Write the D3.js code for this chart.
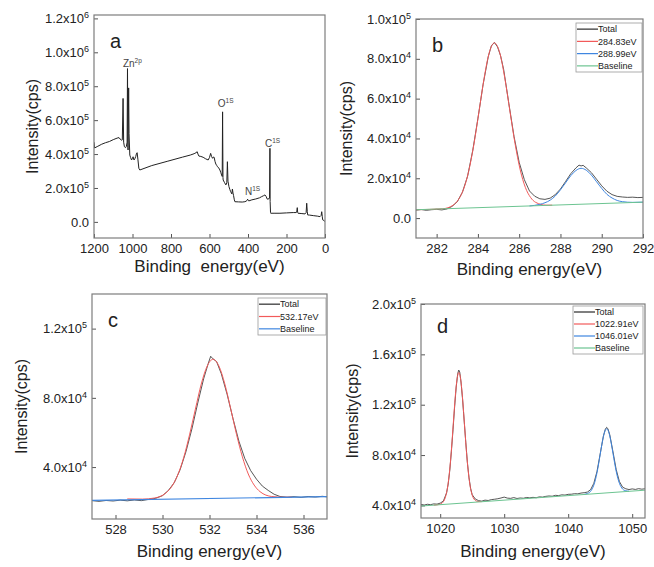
<!DOCTYPE html>
<html>
<head>
<meta charset="utf-8">
<script src="https://cdn.jsdelivr.net/npm/d3@7"></script>
<style>
body { margin: 0; background: #fff; }
text { font-family: "Liberation Sans", Arial, sans-serif; fill: #222; }
</style>
</head>
<body>
<div id="chart"></div>
<script>
// all intensities below are in 10^3 cps

// (a) survey spectrum, [binding energy eV, intensity]
var surveyData = [[1200,470],[1197,436],[1180,446],[1160,458],[1140,467],[1120,474],[1100,485],[1080,494],[1070,497],
  [1064,488],[1058,482],[1053,484],[1049,728],[1046,470],[1042,443],[1036,438],[1032,445],[1028,470],[1026,904],
  [1024,440],[1023,424],[1020,790],[1018,520],[1014,394],[1010,380],[1005,365],[1000,375],[997,384],[994,370],
  [992,365],[988,372],[983,386],[980,400],[976,408],[972,370],[967,316],[962,306],[900,332],[820,357],[740,382],
  [700,394],[680,402],[670,408],[664,414],[660,400],[655,388],[645,386],[633,381],[620,372],[607,365],[600,380],
  [594,404],[589,385],[584,375],[579,383],[576,381],[571,355],[567,341],[562,332],[558,325],[552,318],[546,306],
  [541,290],[537,276],[534,268],[532,649],[530,262],[529,247],[522,232],[515,218],[510,230],[507,355],[504,240],
  [499,208],[494,190],[490,178],[486,170],[484,165],[481,194],[478,170],[475,155],[471,130],[468,119],[450,118],
  [430,117],[416,119],[410,122],[404,128],[402,134],[399,126],[395,124],[380,130],[360,135],[340,142],[329,149],
  [320,154],[312,159],[306,150],[300,134],[290,137],[288,140],[286,434],[285,120],[283,56],[282,51],[260,51],
  [234,51],[200,53],[165,55],[150,55],[147,57],[144,84],[142,56],[140,51],[120,49],[104,47],[98,55],[95,110],
  [92,60],[90,41],[80,40],[61,37],[40,34],[26,31],[20,38],[17,60],[14,30],[12,12],[6,8],[2,4],[0,2]];
var surveyPeakNames = ["Zn", "O", "N", "C"];
var surveyPeakSups = ["2p", "1S", "1S", "1S"];
var surveyPeakE = [1050, 557, 416, 312];
var surveyPeakI = [912, 676, 159, 441];
var surveyXTicks = [1200, 1000, 800, 600, 400, 200, 0];
var surveyYTicks = [0, 200, 400, 600, 800, 1000, 1200];

// (b) C 1s
var c1sTotal = [[281,4.0],[281.25,4.3],[281.5,3.9],[281.75,4.2],[282,4.4],[282.25,4.1],[282.5,4.6],[282.75,5.9],
  [283,8.2],[283.25,13],[283.5,21],[283.75,34],[284,50],[284.25,67],[284.5,81],[284.65,86.5],[284.8,88.2],
  [284.95,86],[285.1,81.5],[285.25,74.5],[285.5,57.5],[285.75,41],[286,28],[286.25,19.3],[286.5,13.6],
  [286.75,11.0],[287,9.7],[287.25,9.4],[287.5,10.0],[287.75,11.8],[288,14.6],[288.25,18.4],[288.5,22.3],
  [288.75,25.2],[288.9,26.6],[289,26.2],[289.1,26.5],[289.25,25.2],[289.5,22.8],[289.75,19.5],[290,16.2],
  [290.25,13.5],[290.5,11.8],[290.75,10.9],[291,10.6],[291.25,10.4],[291.5,10.5],[291.75,10.3],[292,10.4]];
var c1sPeakA = [[281,4.2],[282.3,4.7],[282.8,6.5],[283.05,9.2],[283.3,14.4],[283.55,23.4],[283.8,36.7],[284.05,53.3],
  [284.3,70.2],[284.55,83.1],[284.8,88.0],[285.05,83.3],[285.3,70.5],[285.55,53.8],[285.8,37.4],[286.05,24.2],
  [286.3,15.4],[286.55,10.4],[286.8,7.9],[287.3,6.5],[287.6,6.5]];
var c1sPeakB = [[286.5,6.1],[287,6.9],[287.25,7.7],[287.5,9.0],[287.75,11.1],[288,14.2],[288.25,17.75],[288.5,21.3],
  [288.75,23.9],[289,25.0],[289.25,24.05],[289.5,21.6],[289.75,18.25],[290,14.9],[290.25,11.95],[290.5,10.1],
  [290.75,8.85],[291,8.25],[291.5,7.9],[292,8.0]];
var c1sBase = [[281,4.2],[292,8.0]];
var c1sNames = ["Total", "284.83eV", "288.99eV", "Baseline"];
var c1sXTicks = [282, 284, 286, 288, 290, 292];
var c1sYTicks = [0, 20, 40, 60, 80, 100];

// (c) O 1s
var o1sTotal = [[527,20.6],[527.3,20.2],[527.6,20.7],[527.9,20.4],[528.2,20.9],[528.5,20.5],[528.8,21.0],[529.1,20.6],
  [529.4,21.3],[529.7,21.9],[530,23.5],[530.25,26.5],[530.5,31],[530.75,38.5],[531,49],[531.25,62],[531.5,77],
  [531.75,91],[531.95,100],[532.05,104],[532.15,102.5],[532.3,101],[532.5,94],[532.75,82],[533,68],[533.25,55],
  [533.5,45],[533.75,38],[534,33],[534.25,29],[534.5,26.5],[534.75,24.3],[535,23.0],[535.3,22.6],[535.6,22.9],
  [535.9,22.5],[536.2,23.0],[536.5,22.7],[536.8,23.1],[537,22.8]];
var o1sPeak = [[528.5,21.6],[529.15,21.5],[529.65,22.1],[530.15,25.1],[530.4,28.9],[530.65,35.5],[530.9,45.4],
  [531.15,58.6],[531.4,73.5],[531.65,88.0],[531.9,98.3],[532.15,102.3],[532.4,98.4],[532.65,88.1],[532.9,73.8],
  [533.15,58.9],[533.4,45.9],[533.65,36.0],[533.9,29.6],[534.15,25.8],[534.65,23.0],[535.15,22.6],[535.5,22.6]];
var o1sBase = [[527,20.8],[537,22.9]];
var o1sNames = ["Total", "532.17eV", "Baseline"];
var o1sXTicks = [528, 530, 532, 534, 536];
var o1sYTicks = [40, 80, 120];

// (d) Zn 2p
var zn2pTotal = [[1017,40.8],[1017.5,40.3],[1018,40.9],[1018.5,40.6],[1019,41.2],[1019.5,41.0],[1020,41.8],
  [1020.5,43.5],[1021,50],[1021.25,57],[1021.5,68],[1021.75,83],[1022,100],[1022.25,118],[1022.5,134],
  [1022.75,145],[1022.9,147.5],[1023.05,146],[1023.25,138],[1023.5,124],[1023.75,107],[1024,90],[1024.25,74],
  [1024.5,62],[1024.75,53.5],[1025,48.5],[1025.5,45],[1026,43.8],[1026.5,43.4],[1027,44.2],[1027.5,43.9],
  [1028,44.6],[1028.5,44.9],[1029,45.3],[1029.5,45.9],[1030,46.6],[1030.5,45.8],[1031,45.6],[1031.5,46.2],
  [1032,45.5],[1032.5,45.9],[1033,45.7],[1033.5,46.3],[1034,46.0],[1034.5,46.4],[1035,46.1],[1035.5,46.8],
  [1036,46.6],[1036.5,47.2],[1037,47.5],[1037.5,47.3],[1038,48.0],[1038.5,47.8],[1039,48.4],[1039.5,48.2],
  [1040,48.8],[1040.5,48.9],[1041,49.3],[1041.5,49.2],[1042,49.8],[1042.5,50.1],[1043,50.6],[1043.5,52.5],
  [1044,57.5],[1044.5,67],[1045,81],[1045.5,95],[1045.8,100.5],[1046,102],[1046.2,101],[1046.5,96],[1047,82.5],
  [1047.5,68.5],[1048,59],[1048.5,54.5],[1049,53.2],[1049.5,52.6],[1050,53.1],[1050.5,52.7],[1051,53.3],
  [1051.5,52.9],[1052,53.2]];
var zn2pPeakA = [[1019,40.2],[1019.91,40.85],[1020.41,42.4],[1020.91,48.3],[1021.16,54.7],[1021.41,64.6],
  [1021.66,78.2],[1021.91,95.1],[1022.16,113.2],[1022.41,129.7],[1022.66,141.4],[1022.91,145.7],[1023.16,141.6],
  [1023.41,130.1],[1023.66,113.8],[1023.91,95.8],[1024.16,79.1],[1024.41,65.7],[1024.66,56.0],[1024.91,49.8],
  [1025.41,44.3],[1025.91,43.1],[1026.5,43.0]];
var zn2pPeakB = [[1042.5,48.8],[1043,49.5],[1043.5,51.2],[1044,56.1],[1044.25,60.3],[1044.5,66.0],[1044.75,72.9],
  [1045,80.5],[1045.25,88.2],[1045.5,94.8],[1045.75,99.25],[1046,100.9],[1046.25,99.4],[1046.5,95.1],
  [1046.75,88.7],[1047,81.2],[1047.25,73.8],[1047.5,67.1],[1047.75,61.6],[1048,57.6],[1048.5,53.0],[1049,51.6],
  [1049.5,51.3]];
var zn2pBase = [[1017,39.5],[1052,52.1]];
var zn2pNames = ["Total", "1022.91eV", "1046.01eV", "Baseline"];
var zn2pXTicks = [1020, 1030, 1040, 1050];
var zn2pYTicks = [40, 80, 120, 160, 200];

var width = 654, height = 567;
var cTotal = "#2b2b2b", cRed = "#f25a5a", cBlue = "#3f86e0", cGreen = "#6cc491";

var svg = d3.select("#chart").append("svg")
    .attr("width", width)
    .attr("height", height);

svg.append("rect").attr("width", width).attr("height", height).attr("fill", "#fff");

// writes 1.2x10^5 style labels (value given in 10^3 cps)
function sciLabel(sel, v) {
    sel.text(null);
    if (v === 0) { sel.text("0.0"); return; }
    var cps = v * 1000;
    var e = Math.floor(Math.log10(cps) + 1e-9);
    var m = (cps / Math.pow(10, e)).toFixed(1);
    sel.append("tspan").text(m + "x10");
    sel.append("tspan").attr("dy", -5).attr("font-size", 9).text(e);
}

function drawPanel(p) {
    var x = d3.scaleLinear().domain(p.xDomain).range([p.left, p.right]);
    var y = d3.scaleLinear().domain(p.yDomain).range([p.bottom, p.top]);
    var g = svg.append("g");

    var clipId = "clip-" + p.id;
    g.append("clipPath").attr("id", clipId)
        .append("rect")
        .attr("x", p.left).attr("y", p.top)
        .attr("width", p.right - p.left).attr("height", p.bottom - p.top);

    // axes with inward ticks
    var xa = g.append("g")
        .attr("transform", "translate(0," + p.bottom + ")")
        .call(d3.axisBottom(x).tickValues(p.xTicks).tickFormat(d3.format("d"))
            .tickSizeInner(-4).tickSizeOuter(0).tickPadding(6));
    var ya = g.append("g")
        .attr("transform", "translate(" + p.left + ",0)")
        .call(d3.axisLeft(y).tickValues(p.yTicks).tickSizeInner(-4).tickSizeOuter(0).tickPadding(5));
    [xa, ya].forEach(function(a) {
        a.attr("font-size", 13).attr("font-family", null);
        a.select(".domain").remove();
        a.selectAll(".tick line").attr("stroke", "#555");
    });
    ya.selectAll(".tick text").each(function(d) { sciLabel(d3.select(this), d); });

    // curves
    var line = d3.line()
        .x(function(d) { return x(d[0]); })
        .y(function(d) { return y(d[1]); });
    var plot = g.append("g").attr("clip-path", "url(#" + clipId + ")");
    p.series.forEach(function(s) {
        plot.append("path")
            .datum(s.data)
            .attr("fill", "none")
            .attr("stroke", s.color)
            .attr("stroke-width", s.width)
            .attr("stroke-linejoin", "round")
            .attr("d", line.curve(s.smooth ? d3.curveMonotoneX : d3.curveLinear));
    });

    // frame
    g.append("rect")
        .attr("x", p.left).attr("y", p.top)
        .attr("width", p.right - p.left).attr("height", p.bottom - p.top)
        .attr("fill", "none")
        .attr("stroke", "#7d7d7d")
        .attr("stroke-width", 1.2);

    // axis titles
    g.append("text")
        .attr("x", (p.left + p.right) / 2)
        .attr("y", p.bottom + p.xTitleGap)
        .attr("text-anchor", "middle")
        .attr("font-size", 17)
        .style("white-space", "pre")
        .text(p.xTitle);
    g.append("text")
        .attr("transform", "translate(" + (p.left - p.yTitleGap) + "," + ((p.top + p.bottom) / 2) + ") rotate(-90)")
        .attr("text-anchor", "middle")
        .attr("dy", "0.35em")
        .attr("font-size", 16)
        .text("Intensity(cps)");

    // panel letter
    g.append("text")
        .attr("x", p.letterX).attr("y", p.letterY)
        .attr("font-size", 20)
        .text(p.id);

    // legend
    if (p.legend) {
        var L = p.legend;
        var rowH = (L.y1 - L.y0) / L.names.length;
        var lg = g.append("g");
        lg.append("rect")
            .attr("x", L.x0).attr("y", L.y0)
            .attr("width", L.x1 - L.x0).attr("height", L.y1 - L.y0)
            .attr("fill", "#fff")
            .attr("stroke", "#9a9a9a")
            .attr("stroke-width", 0.8);
        L.names.forEach(function(n, i) {
            var cy = L.y0 + rowH * (i + 0.5);
            lg.append("line")
                .attr("x1", L.x0 + 1).attr("x2", L.x0 + 22)
                .attr("y1", cy).attr("y2", cy)
                .attr("stroke", p.series[i].color)
                .attr("stroke-width", 1.2);
            lg.append("text")
                .attr("x", L.x0 + 22).attr("y", cy)
                .attr("dy", "0.35em")
                .attr("font-size", 9)
                .text(n);
        });
    }
    return { x: x, y: y, g: g };
}

var pa = drawPanel({
    id: "a", left: 94, right: 325, top: 15, bottom: 238,
    xDomain: [1200, 0], yDomain: [-95, 1220],
    xTicks: surveyXTicks, yTicks: surveyYTicks,
    xTitle: "Binding  energy(eV)", xTitleGap: 34, yTitleGap: 62,
    letterX: 110, letterY: 48,
    series: [{ data: surveyData, color: "#222", width: 1 }]
});

// peak labels of the survey
surveyPeakNames.forEach(function(n, i) {
    var t = pa.g.append("text")
        .attr("x", pa.x(surveyPeakE[i]))
        .attr("y", pa.y(surveyPeakI[i]))
        .attr("font-size", 10)
        .style("fill", "#444");
    t.append("tspan").text(n);
    t.append("tspan").attr("dy", -4).attr("font-size", 6.5).text(surveyPeakSups[i]);
});

drawPanel({
    id: "b", left: 416, right: 643, top: 19, bottom: 238,
    xDomain: [281, 292], yDomain: [-10, 100],
    xTicks: c1sXTicks, yTicks: c1sYTicks,
    xTitle: "Binding energy(eV)", xTitleGap: 37, yTitleGap: 70,
    letterX: 432, letterY: 52,
    series: [
        { data: c1sTotal, color: cTotal, width: 0.8 },
        { data: c1sPeakA, color: cRed, width: 1, smooth: true },
        { data: c1sPeakB, color: cBlue, width: 1, smooth: true },
        { data: c1sBase, color: cGreen, width: 1 }
    ],
    legend: { x0: 576, y0: 23, x1: 642, y1: 72, names: c1sNames }
});

drawPanel({
    id: "c", left: 92, right: 327, top: 294, bottom: 519,
    xDomain: [527, 537], yDomain: [10, 140],
    xTicks: o1sXTicks, yTicks: o1sYTicks,
    xTitle: "Binding energy(eV)", xTitleGap: 38, yTitleGap: 71,
    letterX: 108, letterY: 327,
    series: [
        { data: o1sTotal, color: cTotal, width: 0.8 },
        { data: o1sPeak, color: cRed, width: 1, smooth: true },
        { data: o1sBase, color: cBlue, width: 1.2 }
    ],
    legend: { x0: 258, y0: 298, x1: 326, y1: 335, names: o1sNames }
});

drawPanel({
    id: "d", left: 421, right: 645, top: 304, bottom: 518,
    xDomain: [1017, 1052], yDomain: [30, 200],
    xTicks: zn2pXTicks, yTicks: zn2pYTicks,
    xTitle: "Binding energy(eV)", xTitleGap: 39, yTitleGap: 69,
    letterX: 437, letterY: 333,
    series: [
        { data: zn2pTotal, color: cTotal, width: 0.8 },
        { data: zn2pPeakA, color: cRed, width: 1, smooth: true },
        { data: zn2pPeakB, color: cBlue, width: 1, smooth: true },
        { data: zn2pBase, color: cGreen, width: 1 }
    ],
    legend: { x0: 573, y0: 306, x1: 643, y1: 354, names: zn2pNames }
});
</script>
</body>
</html>
